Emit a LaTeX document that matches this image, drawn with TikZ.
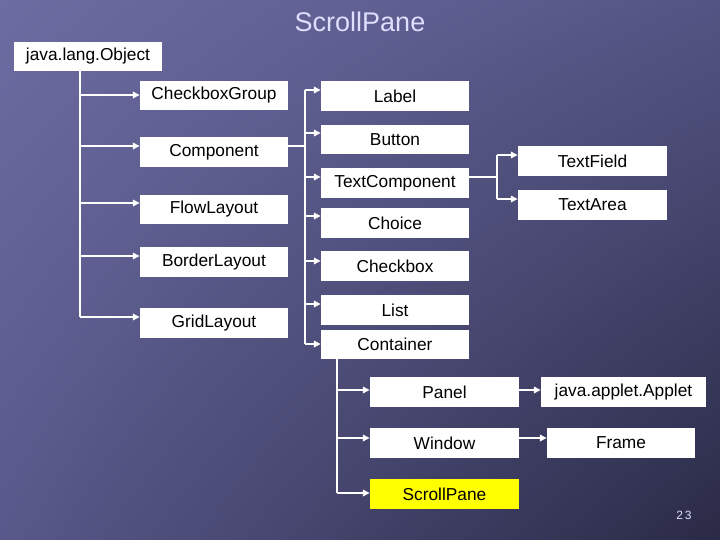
\documentclass[tikz,border=0pt]{standalone}
\usepackage{fontspec}
\setmainfont{Liberation Sans}
\usetikzlibrary{arrows.meta,shadings}
\definecolor{bgUL}{RGB}{108,108,162}
\definecolor{bgUR}{RGB}{84,84,132}
\definecolor{bgLL}{RGB}{88,88,138}
\definecolor{bgLR}{RGB}{42,42,70}
\definecolor{titlecol}{RGB}{222,222,255}
\definecolor{hilite}{RGB}{255,255,0}
\tikzset{
  cls/.style={draw=none, fill=white, inner sep=0pt, minimum height=29.5pt,
    font=\fontsize{17.3}{20}\selectfont, text=black},
  link/.style={draw=white, line width=1.6pt},
  arr/.style={link, -{Triangle[length=7pt,width=6.5pt]}},
}
\begin{document}
\begin{tikzpicture}[x=1pt,y=-1pt]
\useasboundingbox (0,0) rectangle (720,540);
\shade[upper left=bgUL, upper right=bgUR, lower left=bgLL, lower right=bgLR] (0,0) rectangle (720,540);

\node[text=titlecol, font=\fontsize{27}{30}\selectfont] (title) at (360,22) {ScrollPane};
\node[text=titlecol, font=\fontsize{12}{14}\selectfont] (pnum) at (684,515) {2\,3};

% level 0
\node[cls, minimum width=148pt] (obj) at (88,56.5) {java.lang.Object};

% level 1
\node[cls, minimum width=148pt] (cbg) at (214,95.5) {CheckboxGroup};
\node[cls, minimum width=148pt] (comp) at (214,152) {Component};
\node[cls, minimum width=148pt] (flow) at (214,209.5) {FlowLayout};
\node[cls, minimum width=148pt] (border) at (214,262) {BorderLayout};
\node[cls, minimum width=148pt] (grid) at (214,323) {GridLayout};

% level 2
\node[cls, minimum width=148pt] (label) at (395,96) {Label};
\node[cls, minimum width=148pt] (button) at (395,139.5) {Button};
\node[cls, minimum width=148pt] (tcomp) at (395,183) {TextComponent};
\node[cls, minimum width=148pt] (choice) at (395,223) {Choice};
\node[cls, minimum width=148pt] (chkbox) at (395,266) {Checkbox};
\node[cls, minimum width=148pt] (list) at (395,310) {List};
\node[cls, minimum width=148pt] (cont) at (395,344.5) {Container};

% level 3
\node[cls, minimum width=149pt] (tfield) at (592.5,161) {TextField};
\node[cls, minimum width=149pt] (tarea) at (592.5,205) {TextArea};
\node[cls, minimum width=149pt] (panel) at (444.5,392) {Panel};
\node[cls, minimum width=149pt] (window) at (444.5,443) {Window};
\node[cls, minimum width=149pt, fill=hilite] (spane) at (444.5,494) {ScrollPane};

% level 4
\node[cls, minimum width=165pt] (applet) at (623.5,392) {java.applet.Applet};
\node[cls, minimum width=148pt] (frame) at (621,443) {Frame};

% trunk from Object
\coordinate (o1) at (80,95);
\coordinate (o2) at (80,146);
\coordinate (o3) at (80,203);
\coordinate (o4) at (80,256);
\coordinate (o5) at (80,317);
\draw[link] (obj.south -| o1) -- (o5);
\draw[arr] (o1) -- (cbg.west |- o1);
\draw[arr] (o2) -- (comp.west |- o2);
\draw[arr] (o3) -- (flow.west |- o3);
\draw[arr] (o4) -- (border.west |- o4);
\draw[arr] (o5) -- (grid.west |- o5);

% trunk from Component
\coordinate (c0) at (305,146);
\coordinate (c1) at (305,90);
\coordinate (c2) at (305,133);
\coordinate (c3) at (305,177);
\coordinate (c4) at (305,216);
\coordinate (c5) at (305,261);
\coordinate (c6) at (305,304);
\coordinate (c7) at (305,344);
\draw[link] (comp.east |- c0) -- (c0);
\draw[link] (c1) -- (c7);
\draw[arr] (c1) -- (label.west |- c1);
\draw[arr] (c2) -- (button.west |- c2);
\draw[arr] (c3) -- (tcomp.west |- c3);
\draw[arr] (c4) -- (choice.west |- c4);
\draw[arr] (c5) -- (chkbox.west |- c5);
\draw[arr] (c6) -- (list.west |- c6);
\draw[arr] (c7) -- (cont.west |- c7);

% trunk from TextComponent
\coordinate (t0) at (497,177);
\coordinate (t1) at (497,155);
\coordinate (t2) at (497,199);
\draw[link] (tcomp.east |- t0) -- (t0);
\draw[link] (t1) -- (t2);
\draw[arr] (t1) -- (tfield.west |- t1);
\draw[arr] (t2) -- (tarea.west |- t2);

% trunk from Container
\coordinate (k1) at (337,390);
\coordinate (k2) at (337,438);
\coordinate (k3) at (337,493);
\draw[link] (cont.south -| k1) -- (k3);
\draw[arr] (k1) -- (panel.west |- k1);
\draw[arr] (k2) -- (window.west |- k2);
\draw[arr] (k3) -- (spane.west |- k3);

% Panel -> Applet, Window -> Frame
\draw[arr] (panel.east |- k1) -- (applet.west |- k1);
\draw[arr] (window.east |- k2) -- (frame.west |- k2);
\end{tikzpicture}
\end{document}
